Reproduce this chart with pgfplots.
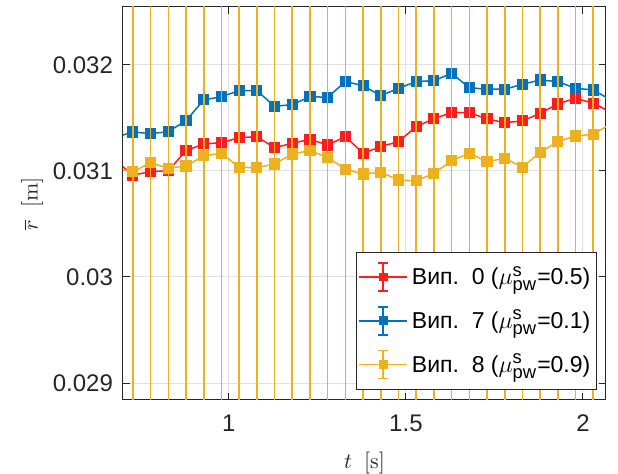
\documentclass[border=0pt]{standalone}
\usepackage{amsmath}
\usepackage[no-math]{fontspec}
\setmainfont{Liberation Sans}
\usepackage{pgfplots}
\pgfplotsset{compat=1.18}
\definecolor{cred}{RGB}{255,30,30}
\definecolor{cblue}{RGB}{0,114,189}
\definecolor{cyel}{RGB}{237,177,32}
\definecolor{caxis}{RGB}{38,38,38}
\definecolor{cgrid}{RGB}{225,225,225}
\newcommand{\scr}[1]{\text{\fontsize{9.2}{9.5}\selectfont #1}}
\pgfplotstableread{
t r e
0.679 0.031100 0.00003
0.729 0.030962 0.00003
0.779 0.030993 0.00003
0.829 0.031003 0.00003
0.879 0.031192 0.00003
0.929 0.031255 0.00003
0.979 0.031267 0.00003
1.029 0.031314 0.00003
1.079 0.031324 0.00003
1.129 0.031220 0.00003
1.179 0.031261 0.00003
1.229 0.031299 0.00003
1.279 0.031245 0.00003
1.329 0.031324 0.00003
1.379 0.031167 0.00003
1.429 0.031230 0.00003
1.479 0.031277 0.00003
1.529 0.031418 0.00003
1.579 0.031494 0.00003
1.629 0.031550 0.00003
1.679 0.031550 0.00003
1.729 0.031491 0.00003
1.779 0.031456 0.00003
1.829 0.031472 0.00003
1.879 0.031544 0.00003
1.929 0.031632 0.00003
1.979 0.031686 0.00003
2.029 0.031639 0.00003
2.079 0.031554 0.00003
}\datared
\pgfplotstableread{
t r e
0.679 0.031316 0.00003
0.729 0.031368 0.00003
0.779 0.031352 0.00003
0.829 0.031371 0.00003
0.879 0.031475 0.00003
0.929 0.031670 0.00003
0.979 0.031701 0.00003
1.029 0.031758 0.00003
1.079 0.031758 0.00003
1.129 0.031610 0.00003
1.179 0.031626 0.00003
1.229 0.031701 0.00003
1.279 0.031695 0.00003
1.329 0.031843 0.00003
1.379 0.031805 0.00003
1.429 0.031710 0.00003
1.479 0.031780 0.00003
1.529 0.031843 0.00003
1.579 0.031852 0.00003
1.629 0.031921 0.00003
1.679 0.031786 0.00003
1.729 0.031771 0.00003
1.779 0.031771 0.00003
1.829 0.031818 0.00003
1.879 0.031858 0.00003
1.929 0.031843 0.00003
1.979 0.031780 0.00003
2.029 0.031764 0.00003
2.079 0.031669 0.00003
}\datablue
\pgfplotstableread{
t r e
0.679 0.031023 0.006
0.729 0.030993 0.006
0.779 0.031078 0.006
0.829 0.031025 0.006
0.879 0.031047 0.006
0.929 0.031142 0.006
0.979 0.031167 0.006
1.029 0.031035 0.006
1.079 0.031031 0.006
1.129 0.031066 0.006
1.179 0.031160 0.006
1.229 0.031192 0.006
1.279 0.031129 0.006
1.329 0.031016 0.006
1.379 0.030972 0.006
1.429 0.030988 0.006
1.479 0.030915 0.006
1.529 0.030906 0.006
1.579 0.030978 0.006
1.629 0.031097 0.006
1.679 0.031167 0.006
1.729 0.031088 0.006
1.779 0.031120 0.006
1.829 0.031035 0.006
1.879 0.031176 0.006
1.929 0.031277 0.006
1.979 0.031330 0.006
2.029 0.031346 0.006
2.079 0.031445 0.006
}\datayel
\begin{document}
\begin{tikzpicture}
\path[use as bounding box] (0,0) rectangle (309pt,237pt);
\begin{axis}[
  at={(61.5pt,37pt)}, anchor=south west,
  scale only axis, width=241.5pt, height=196.5pt,
  xmin=0.701, xmax=2.065, ymin=0.02884, ymax=0.032547,
  xtick={1,1.5,2}, xticklabels={1,1.5,2},
  ytick={0.029,0.03,0.031,0.032}, yticklabels={0.029,0.03,0.031,0.032},
  scaled y ticks=false,
  tick align=inside, major tick length=3.3pt,
  axis line style={caxis, line width=0.5pt},
  tick style={caxis, line width=0.5pt},
  grid=major, major grid style={cgrid, line width=0.5pt},
  /pgf/number format/assume math mode=true,
  tick label style={font=\fontsize{12}{14}\selectfont, color=caxis},
  xticklabel style={yshift=-4pt},
  yticklabel style={xshift=-1.5pt},
  xlabel={$t\ \ [\mathrm{s}]$},
  ylabel={$\overline{r}\ \ [\mathrm{m}]$},
  label style={font=\fontsize{11}{13}\selectfont, color=caxis},
  xlabel style={yshift=-3.5pt},
  ylabel style={yshift=-2pt},
  clip marker paths=true,
  legend style={at={(0.981,0.0254)}, anchor=south east,
    draw=caxis, line width=0.5pt, fill=white,
    font=\fontsize{11.5}{13}\selectfont, row sep=7.2pt,
    inner xsep=1pt, inner ysep=5pt,
    nodes={inner xsep=2pt, inner ysep=1pt}},
  legend cell align=left,
  legend image code/.code={
    \draw[#1,mark=none] (0pt,0pt) -- (24pt,0pt);
    \draw[#1,mark=none] (12pt,-7pt) -- (12pt,7pt);
    \draw[#1,mark=none] (9.5pt,-7pt) -- (14.5pt,-7pt) (9.5pt,7pt) -- (14.5pt,7pt);
    \draw[#1,mark size=1.8pt] plot coordinates {(12pt,0pt)};
  },
]
\addplot[color=cred, line width=0.75pt, mark=square*, mark size=2.4pt,
  error bars/.cd, y dir=both, y explicit,
  error bar style={line width=0.75pt},
  error mark options={rotate=90, mark size=2.5pt, line width=0.75pt}]
  table[x=t, y=r, y error=e] {\datared};
\addlegendentry{Вип.\ \ 0 ($\mu^{\scr{s}}_{\scr{pw}}$=0.5)}
\addplot[color=cblue, line width=0.75pt, mark=square*, mark size=2.4pt,
  error bars/.cd, y dir=both, y explicit,
  error bar style={line width=0.75pt},
  error mark options={rotate=90, mark size=2.5pt, line width=0.75pt}]
  table[x=t, y=r, y error=e] {\datablue};
\addlegendentry{Вип.\ \ 7 ($\mu^{\scr{s}}_{\scr{pw}}$=0.1)}
\addplot[color=cyel, line width=0.75pt, mark=square*, mark size=2.4pt,
  error bars/.cd, y dir=both, y explicit,
  error bar style={line width=0.8pt},
  error mark options={rotate=90, mark size=2.5pt, line width=0.8pt}]
  table[x=t, y=r, y error=e] {\datayel};
\addlegendentry{Вип.\ \ 8 ($\mu^{\scr{s}}_{\scr{pw}}$=0.9)}
\end{axis}
\end{tikzpicture}
\end{document}
